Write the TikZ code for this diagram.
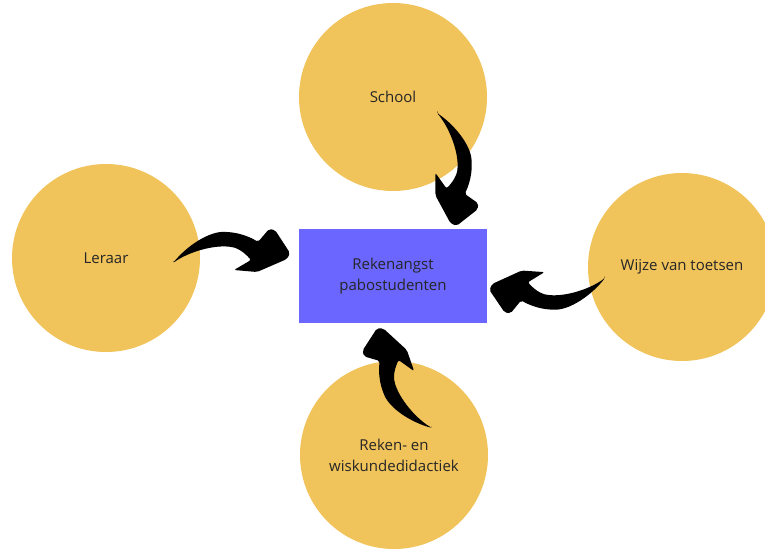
\documentclass[tikz,border=0pt]{standalone}
\usepackage{fontspec}
\setmainfont{Open Sans}
\definecolor{circfill}{HTML}{F0C35B}
\definecolor{boxfill}{HTML}{6A66FF}
\definecolor{txt}{HTML}{262626}
\tikzset{
  circ/.style={circle, fill=circfill, minimum size=188pt, inner sep=0pt, align=center, text=txt,
    font=\fontsize{15}{21}\selectfont},
  centerbox/.style={rectangle, fill=boxfill, minimum width=188pt, minimum height=94pt, inner sep=0pt,
    align=center, text=txt, font=\fontsize{15}{21}\selectfont},
  brush/.pic={
    \fill[black, rounded corners=2pt]
      (0,0) .. controls (14,17) and (36,32) .. (54,31)
      .. controls (68,30) and (79,25) .. (85,21)
      -- (96,34) -- (102,33) -- (117,10) -- (114,4) -- (84,-9) -- (61,-7) -- (78,3)
      .. controls (70,12) and (63,16) .. (54,16.5)
      .. controls (36,17) and (14,10) .. (0,0) -- cycle;
  }
}
\begin{document}
\begin{tikzpicture}[x=1pt,y=1pt]
\useasboundingbox (0,0) rectangle (765,550);
\clip (0,0) rectangle (765,550);
\node[circ] (school) at (393,453) {School};
\node[circ] (leraar) at (106,292) {Leraar};
\node[circ] (wijze) at (682,283) {Wijze van toetsen};
\node[circ] (reken) at (394,95) {Reken- en\\wiskundedidactiek};
\node[centerbox] (box) at (393,274) {Rekenangst\\pabostudenten};
\coordinate (tl) at (173,287);
\coordinate (ts) at (437,437);
\coordinate (tw) at (605,272);
\coordinate (tr) at (432,122);
\pic at (tl) {brush};
\pic[rotate=-85, scale=0.975] at (ts) {brush};
\pic[rotate=181, scale=0.99] at (tw) {brush};
\pic[rotate=114, scale=0.97] at (tr) {brush};
\end{tikzpicture}
\end{document}
